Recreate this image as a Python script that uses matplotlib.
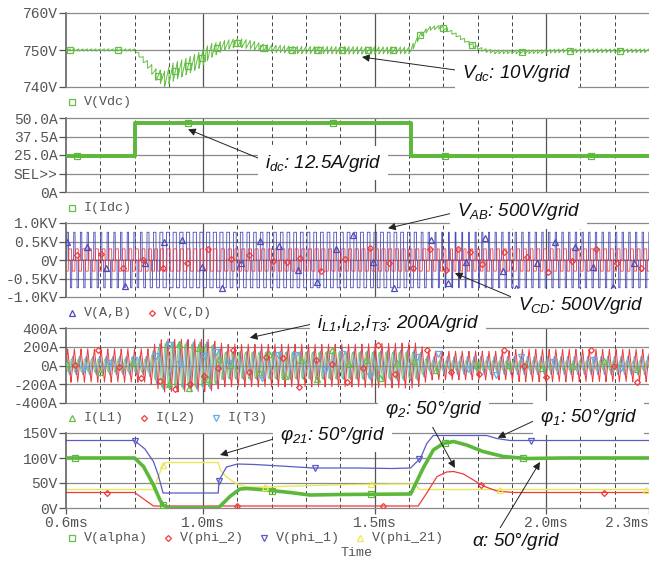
import numpy as np
import matplotlib
matplotlib.use("Agg")
import matplotlib.pyplot as plt
from matplotlib.lines import Line2D
from matplotlib.text import Annotation

plt.rcParams.update({
    "mathtext.fontset": "custom",
    "mathtext.rm": "Liberation Sans:italic",
    "mathtext.it": "Liberation Sans:italic",
    "mathtext.default": "it",
})

# ---------------- data (time in ms) ----------------
T_START, T_END = 0.6, 2.3
SW_PERIOD_V = 0.0195    # switching period of the bridge voltages
SW_PERIOD_I = 0.0195    # period of the current ripple
VDC_RIPPLE_PERIOD = 0.0125

# Panel 1: V(Vdc)
vdc_t = [0.60, 0.80, 0.835, 0.864, 0.888, 0.912, 0.95, 0.99, 1.02, 1.06, 1.10, 1.14, 1.18,
         1.27, 1.45, 1.605, 1.632, 1.66, 1.69, 1.71, 1.739, 1.783, 1.816, 1.85, 1.95, 2.05, 2.30]
vdc_mean = [750, 750, 746.4, 743.2, 742.2, 744, 745.5, 747.3, 749.7, 751.2, 752, 751.4, 750.5,
            750, 749.9, 749.9, 754, 755.8, 756.2, 755.6, 754, 751.4, 750, 749.5, 749.5, 749.8, 749.8]
vdc_ripple = [0.3, 0.3, 1.0, 1.6, 2.1, 2.5, 2.3, 2.2, 2.0, 1.3, 1.2, 1.2, 1.0,
              1.0, 1.0, 0.9, 0.6, 0.5, 0.5, 0.5, 0.5, 0.5, 0.5, 0.5, 0.5, 0.5, 0.5]
vdc_marker_t = [0.611, 0.752, 0.869, 0.918, 0.956, 0.996, 1.04, 1.098, 1.174, 1.259, 1.335,
                1.405, 1.48, 1.554, 1.633, 1.70, 1.783, 1.93, 2.07, 2.215]

# Panel 2: I(Idc)
idc_t = [0.60, 0.80, 0.80, 1.605, 1.605, 2.30]
idc_v = [24, 24, 46.5, 46.5, 24, 24]
idc_marker_t = [0.632, 0.956, 1.378, 1.705, 2.13]

# Panel 3: V(A,B), V(C,D)
vab_amp = 750
vcd_amp = 300
vab_marker_t = [0.602, 0.662, 0.717, 0.772, 0.830, 0.887, 0.939, 0.997, 1.054, 1.109, 1.166, 1.221,
                1.276, 1.331, 1.387, 1.438, 1.496, 1.557, 1.664, 1.715, 1.766, 1.822, 1.874, 1.911,
                1.972, 2.026, 2.084, 2.137, 2.196, 2.256]
vab_marker_v = [493, 358, -224, -700, -90, 493, 538, -180, -762, -90, 520, 377,
                -269, -583, 300, 673, -45, -762, 538, -628, -45, 584, -300, -762,
                -90, 493, 358, -180, -718, -72]
vcd_marker_t = [0.633, 0.702, 0.765, 0.825, 0.884, 0.952, 1.013, 1.081, 1.134, 1.203, 1.243, 1.282,
                1.345, 1.413, 1.486, 1.543, 1.613, 1.661, 1.708, 1.744, 1.778, 1.812, 1.878, 1.943,
                2.006, 2.076, 2.145, 2.207, 2.276]
vcd_marker_v = [135, 161, -224, 0, -224, -72, 296, 19, 135, -27, -45, 46,
                -288, 19, 315, -72, -224, 288, -269, 288, 223, -116, 223, 73,
                -315, -27, 288, -72, -224]

# Panel 4: I(L1), I(L2), I(T3) peak envelopes
il1_env_t = [0.60, 0.84, 0.88, 1.02, 1.06, 1.62, 1.66, 2.30]
il1_env_a = [70, 70, 235, 225, 140, 140, 50, 50]
il2_env_t = [0.60, 0.84, 0.88, 1.02, 1.06, 1.44, 1.62, 1.66, 1.88, 1.92, 2.30]
il2_env_a = [180, 180, 285, 280, 230, 230, 245, 155, 155, 175, 175]
it3_env_t = [0.60, 0.84, 0.88, 1.02, 1.06, 1.44, 1.62, 1.66, 2.30]
it3_env_a = [100, 100, 255, 250, 150, 150, 165, 95, 100]
il1_marker_t = [0.603, 0.700, 0.794, 0.899, 0.930, 0.958, 0.987, 1.013, 1.045, 1.079, 1.164, 1.193,
                1.239, 1.285, 1.332, 1.376, 1.426, 1.474, 1.517, 1.564, 1.615, 1.680, 1.797, 1.892,
                1.989, 2.076, 2.170, 2.266]
il1_marker_v = [18, -71, 36, -196, 225, -243, 186, -143, 71, 7, -71, 125,
                -114, 64, -143, 161, 18, 61, -136, 29, 43, -43, 7, 7,
                -29, 0, 43, -36]
il2_marker_t = [0.625, 0.692, 0.755, 0.820, 0.875, 0.919, 0.961, 1.001, 1.042, 1.086, 1.134, 1.183,
                1.232, 1.280, 1.329, 1.376, 1.419, 1.467, 1.510, 1.558, 1.653, 1.722, 1.804, 1.877,
                1.935, 2.001, 2.131, 2.198, 2.264]
il2_marker_v = [7, 161, -18, -132, -161, -250, -196, -107, -29, 161, -64, 89,
                82, -232, 54, 18, -179, -29, 221, -89, 161, -71, -89, 161,
                -7, -125, 161, -7, -171]
it3_marker_t = [0.652, 0.724, 0.797, 0.863, 0.901, 0.933, 1.001, 1.038, 1.074, 1.171, 1.218, 1.269,
                1.354, 1.405, 1.486, 1.624, 1.685, 1.772, 1.853, 1.926, 2.023, 2.141, 2.217]
it3_marker_v = [-36, 29, 54, 100, 221, 18, 100, 143, 29, -136, 114, 107,
                -43, 125, -107, 89, 125, -36, -100, 89, 36, 54, -29]

# Panel 5: control angles (deg)
alpha_t = [0.60, 0.80, 0.826, 0.855, 0.874, 0.883, 0.90, 1.044, 1.078, 1.107, 1.127, 1.185, 1.253,
           1.311, 1.40, 1.50, 1.605, 1.641, 1.671, 1.70, 1.73, 1.768, 1.816, 1.875, 1.943, 2.05, 2.30]
alpha_v = [100, 100, 83, 46, 16, 6, 0, 0, 23, 38, 39, 36, 31,
           26, 27, 27.5, 28, 79, 116, 129, 133, 126, 113, 103, 99, 100, 100]
phi2_t = [0.60, 0.80, 0.855, 1.627, 1.652, 1.682, 1.71, 1.73, 1.759, 1.788, 1.817, 1.856, 1.905, 2.30]
phi2_v = [31, 31, 4, 4, 30, 63, 72, 73, 68, 56, 44, 34, 31, 31]
phi1_t = [0.60, 0.80, 0.83, 0.855, 0.869, 0.883, 1.044, 1.046, 1.05, 1.068, 1.10, 1.15, 1.25, 1.32,
          1.45, 1.55, 1.605, 1.634, 1.652, 1.671, 1.827, 1.856, 1.895, 2.30]
phi1_v = [135, 135, 118, 93, 66, 30, 30, 55, 60, 82, 88, 87, 83, 80,
          80, 79, 80, 100, 129, 145, 145, 139, 135, 135]
phi21_t = [0.60, 0.855, 0.869, 0.883, 0.89, 1.044, 1.05, 1.068, 1.098, 1.127, 1.166, 1.25, 1.40,
           1.55, 1.618, 1.63, 2.30]
phi21_v = [37, 37, 63, 86, 91, 91, 76, 62, 48, 42, 42, 43.5, 46.5,
           48, 48, 37, 37]
alpha_marker_t = [0.626, 0.883, 1.20, 1.49, 1.705, 1.934]
phi2_marker_t = [0.72, 1.10, 1.525, 1.81, 2.17]
phi1_marker_t = [0.80, 1.046, 1.326, 1.63, 1.956]
phi21_marker_t = [0.883, 1.18, 1.49, 1.865, 2.29]

# ---------------- figure ----------------
W, H = 649, 561
fig = plt.figure(figsize=(W / 100, H / 100), dpi=100)

GRID = "#8a8a8a"
AXC = "#555555"
TXT = "#555555"
MONO = "Liberation Mono"
GREEN = "#66bf45"
GREEN2 = "#5cb83a"
BLUE = "#4a4ab8"
RED = "#f03a3a"
LBLUE = "#62aaea"
YELLOW = "#e8e85a"
PBLUE = "#5a5ac8"

MS = {"s": 4.4, "^": 4.8, "v": 4.8, "D": 3.0}


def make_ax(top_px, bot_px):
    return fig.add_axes([66 / W, 1 - bot_px / H, 1 - 66 / W, (bot_px - top_px) / H])


def style(ax, ylim, yticks, ylabels, xlabels=False):
    ax.set_xlim(T_START, T_END)
    ax.set_ylim(*ylim)
    ax.set_yticks(yticks)
    ax.set_yticklabels(ylabels, family=MONO, fontsize=10.5, color=TXT)
    ax.tick_params(axis="y", length=5, width=0.9, color=AXC, pad=1)
    for y in yticks[1:-1]:
        ax.axhline(y, color=GRID, lw=0.9, zorder=0.5)
    ax.spines["right"].set_visible(False)
    for s in ("top", "bottom"):
        ax.spines[s].set_color(GRID)
        ax.spines[s].set_linewidth(0.9)
    ax.spines["left"].set_color(AXC)
    ax.spines["left"].set_linewidth(1.1)
    for k in range(1, 17):
        x = T_START + 0.1 * k
        if abs(x - 1.0) < 1e-6 or abs(x - 1.5) < 1e-6 or abs(x - 2.0) < 1e-6:
            ax.axvline(x, color="#555555", lw=0.9, zorder=0.5)
        else:
            ax.axvline(x, color="#444444", lw=0.7, ls=(0, (4, 3)), zorder=0.5)
    if xlabels:
        ax.set_xticks([0.6, 1.0, 1.5, 2.0, 2.3])
        labs = ax.set_xticklabels(["0.6ms", "1.0ms", "1.5ms", "2.0ms", "2.3ms"],
                                  family=MONO, fontsize=10.5, color=TXT)
        labs[-1].set_ha("right")
        ax.tick_params(axis="x", length=4, width=0.9, color=AXC, pad=2)
    else:
        ax.set_xticks([])


def legend_row(y_img, items):
    cw = 8.0
    x0 = 68.0
    col = 0
    for mk, c, lab in items:
        mx = x0 + col * cw + cw / 2
        fig.add_artist(Line2D([mx / W], [1 - y_img / H], transform=fig.transFigure,
                              marker=mk, mfc="none", mec=c, ms=MS[mk], mew=0.9, ls="none"))
        fig.text((x0 + (col + 2) * cw) / W, 1 - y_img / H, lab, family=MONO, fontsize=9.6,
                 color=TXT, ha="left", va="center")
        col += 2 + len(lab) + 2


def marks(ax, tx, ty, mk, c, z=4):
    ax.plot(tx, ty, ls="none", marker=mk, mfc="none", mec=c, ms=MS[mk], mew=0.9, zorder=z)


t = np.arange(T_START, T_END + 1e-9, 0.0002)


def three_level(period, zero_deg, shift_deg, amp):
    th = (((t - T_START) / period) * 360.0 - shift_deg) % 360.0
    h = zero_deg / 2.0
    v = np.zeros_like(t)
    v[(th >= h) & (th < 180 - h)] = amp
    v[(th >= 180 + h) & (th < 360 - h)] = -amp
    return v


phase_i = (t - T_START) / SW_PERIOD_I

# ---- Panel 1
ax1 = make_ax(13, 87)
style(ax1, (740, 760), [740, 750, 760], ["740V", "750V", "760V"])
saw = 2 * (((t - T_START) / VDC_RIPPLE_PERIOD) % 1.0) - 1
vdc = np.interp(t, vdc_t, vdc_mean) + np.interp(t, vdc_t, vdc_ripple) * saw
ax1.plot(t, vdc, color=GREEN, lw=0.7, zorder=3)
marks(ax1, vdc_marker_t, np.interp(vdc_marker_t, vdc_t, vdc_mean), "s", GREEN)
legend_row(102, [("s", GREEN, "V(Vdc)")])

# ---- Panel 2
ax2 = make_ax(118, 192)
style(ax2, (0, 50), [0, 12.5, 25, 37.5, 50], ["0A", "SEL>>", "25.0A", "37.5A", "50.0A"])
ax2.plot(idc_t, idc_v, color=GREEN2, lw=2.8, zorder=3)
marks(ax2, idc_marker_t, np.interp(idc_marker_t, [0.6, 0.8, 0.8001, 1.605, 1.6051, 2.3],
                                   [24, 24, 46.5, 46.5, 24, 24]), "s", GREEN2)
legend_row(208, [("s", GREEN, "I(Idc)")])

# ---- Panel 3
ax3 = make_ax(223, 297)
style(ax3, (-1000, 1000), [-1000, -500, 0, 500, 1000], ["-1.0KV", "-0.5KV", "0V", "0.5KV", "1.0KV"])
a_t = np.interp(t, alpha_t, alpha_v)
vab = three_level(SW_PERIOD_V, a_t, 0.0, vab_amp)
vcd = three_level(SW_PERIOD_V, np.interp(t, phi2_t, phi2_v), np.interp(t, phi1_t, phi1_v), vcd_amp)
ax3.plot(t, vab, color=BLUE, lw=0.6, zorder=2)
ax3.plot(t, vcd, color=RED, lw=0.6, zorder=3)
marks(ax3, vab_marker_t, vab_marker_v, "^", BLUE)
marks(ax3, vcd_marker_t, vcd_marker_v, "D", RED)
legend_row(313, [("^", BLUE, "V(A,B)"), ("D", RED, "V(C,D)")])

# ---- Panel 4
ax4 = make_ax(328, 403)
style(ax4, (-400, 400), [-400, -200, 0, 200, 400], ["-400A", "-200A", "0A", "200A", "400A"])
i_t3 = np.interp(t, it3_env_t, it3_env_a) * np.sin(2 * np.pi * phase_i + 1.2)
i_l2 = np.interp(t, il2_env_t, il2_env_a) * (2 / np.pi) * np.arcsin(np.sin(2 * np.pi * phase_i))
i_l1 = np.interp(t, il1_env_t, il1_env_a) * np.sin(2 * np.pi * phase_i + 2.6)
ax4.plot(t, i_t3, color=LBLUE, lw=0.8, zorder=2)
ax4.plot(t, i_l2, color=RED, lw=0.7, zorder=3)
ax4.plot(t, i_l1, color=GREEN, lw=0.6, alpha=0.85, zorder=3.5)
marks(ax4, il1_marker_t, il1_marker_v, "^", GREEN)
marks(ax4, il2_marker_t, il2_marker_v, "D", RED)
marks(ax4, it3_marker_t, it3_marker_v, "v", LBLUE)
legend_row(418, [("^", GREEN, "I(L1)"), ("D", RED, "I(L2)"), ("v", LBLUE, "I(T3)")])

# ---- Panel 5
ax5 = make_ax(433, 508)
style(ax5, (0, 150), [0, 50, 100, 150], ["0V", "50V", "100V", "150V"], xlabels=True)
ax5.plot(phi21_t, phi21_v, color=YELLOW, lw=1.0, zorder=2)
ax5.plot(phi2_t, phi2_v, color=RED, lw=0.9, zorder=2.2)
ax5.plot(phi1_t, phi1_v, color=PBLUE, lw=0.9, zorder=2.4)
ax5.plot(alpha_t, alpha_v, color=GREEN2, lw=2.6, zorder=3)
marks(ax5, alpha_marker_t, np.interp(alpha_marker_t, alpha_t, alpha_v), "s", GREEN2)
marks(ax5, phi2_marker_t, np.interp(phi2_marker_t, phi2_t, phi2_v), "D", RED)
marks(ax5, phi1_marker_t, np.interp(phi1_marker_t, phi1_t, phi1_v), "v", PBLUE)
marks(ax5, phi21_marker_t, np.interp(phi21_marker_t, phi21_t, phi21_v), "^", YELLOW)
legend_row(538, [("s", GREEN, "V(alpha)"), ("D", RED, "V(phi_2)"),
                 ("v", PBLUE, "V(phi_1)"), ("^", YELLOW, "V(phi_21)")])
fig.text(357 / W, 1 - 553 / H, "Time", family=MONO, fontsize=9.6, color=TXT,
         ha="center", va="center")


# ---------------- annotations ----------------
def note(ax, text, xy, txt_px, relpos, pad=0.35):
    ann = Annotation(text, xy=xy, xycoords=ax.transData,
                     xytext=(txt_px[0], H - txt_px[1]), textcoords="figure pixels",
                     ha="left", va="center", fontsize=13.5, fontstyle="italic",
                     family="Liberation Sans", color="#111111",
                     bbox=dict(boxstyle="square,pad=%g" % pad, fc="white", ec="none"),
                     arrowprops=dict(arrowstyle="-|>", color="#222222", lw=0.7,
                                     mutation_scale=11, relpos=relpos,
                                     shrinkA=0, shrinkB=0),
                     annotation_clip=False, zorder=10)
    fig.add_artist(ann)


note(ax1, r"$V_{dc}$: 10V/grid", (1.463, 748.1), (462, 73), (0.0, 0.6))
note(ax2, r"$i_{dc}$: 12.5A/grid", (0.956, 42.4), (265, 163), (0.0, 0.6))
note(ax3, r"$V_{AB}$: 500V/grid", (1.539, 857), (457, 212), (0.0, 0.5))
note(ax3, r"$V_{CD}$: 500V/grid", (1.734, -354), (518, 306), (0.0, 0.8))
note(ax4, r"$i_{L1}$,$i_{L2}$,$i_{T3}$: 200A/grid", (1.136, 296), (317, 323), (0.0, 0.5))
note(ax5, r"$\varphi_{21}$: 50°/grid", (1.049, 106), (280, 435), (0.0, 0.4))
note(ax5, r"$\varphi_{2}$: 50°/grid", (1.734, 80), (385, 410), (0.45, 0.0))
note(ax5, r"$\varphi_{1}$: 50°/grid", (1.859, 140.5), (540, 418), (0.0, 0.5))
note(ax5, r"$\alpha$: 50°/grid", (1.982, 92), (472, 541), (0.3, 1.0), pad=0.15)

fig.savefig("out.png", dpi=100, facecolor="white")
